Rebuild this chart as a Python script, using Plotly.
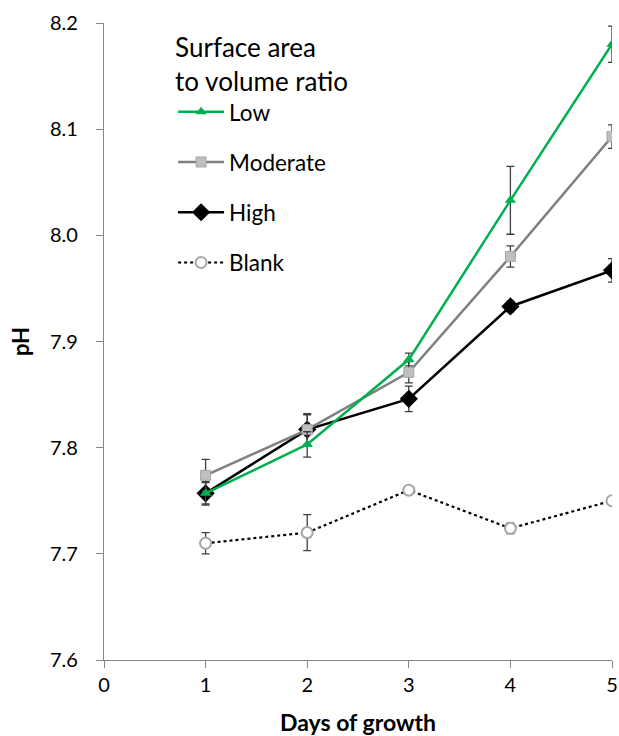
import plotly.graph_objects as go

days = [1, 2, 3, 4, 5]

low = [7.757, 7.803, 7.883, 8.033, 8.180]
low_err = [0.010, 0.012, 0.006, 0.032, 0.017]

moderate = [7.774, 7.817, 7.871, 7.980, 8.093]
moderate_err = [0.015, 0.014, 0.010, 0.010, 0.011]

high = [7.757, 7.817, 7.846, 7.933, 7.967]
high_err = [0.011, 0.015, 0.012, 0.005, 0.011]

blank = [7.710, 7.720, 7.760, 7.724, 7.750]
blank_err = [0.010, 0.017, 0.0, 0.005, 0.0]

x_ticks = [0, 1, 2, 3, 4, 5]
y_ticks = [7.6, 7.7, 7.8, 7.9, 8.0, 8.1, 8.2]
y_tick_text = ["7.6", "7.7", "7.8", "7.9", "8.0", "8.1", "8.2"]

FONT = "Lato, 'Open Sans', sans-serif"
ERR_COLOR = "#3f3f3f"


def err(values):
    return dict(type="data", array=values, visible=True, color=ERR_COLOR,
                thickness=1.3, width=4)


fig = go.Figure()

fig.add_trace(go.Scatter(
    x=days, y=blank, name="Blank", mode="lines+markers",
    line=dict(color="black", width=2.2, dash="dot"),
    marker=dict(symbol="circle", size=11, color="white",
                line=dict(color="#a6a6a6", width=2)),
    error_y=err(blank_err), legendgroup="d", legendrank=4,
))
fig.add_trace(go.Scatter(
    x=days, y=high, name="High", mode="lines+markers",
    line=dict(color="black", width=2.5),
    marker=dict(symbol="diamond", size=14, color="black",
                line=dict(color="black", width=0)),
    error_y=err(high_err), legendgroup="c", legendrank=3,
))
fig.add_trace(go.Scatter(
    x=days, y=moderate, name="Moderate", mode="lines+markers",
    line=dict(color="#808080", width=2.5),
    marker=dict(symbol="square", size=10, color="#bfbfbf",
                line=dict(color="#a6a6a6", width=1)),
    error_y=err(moderate_err), legendgroup="b", legendrank=2,
))
fig.add_trace(go.Scatter(
    x=days, y=low, name="Low", mode="lines+markers",
    line=dict(color="#00b050", width=2.5),
    marker=dict(symbol="triangle-up", size=10, color="#00b050",
                line=dict(color="#00b050", width=0)),
    error_y=err(low_err), legendgroup="a", legendrank=1,
))

fig.update_layout(
    width=619, height=736,
    margin=dict(l=104, r=7, t=23, b=76, autoexpand=False),
    paper_bgcolor="white", plot_bgcolor="white",
    font=dict(family=FONT, size=20, color="black"),
    legend=dict(
        title=dict(text="Surface area<br>to volume ratio", side="top center",
                   font=dict(size=26, family=FONT)),
        x=0.136, y=1.0, xanchor="left", yanchor="top",
        bgcolor="rgba(0,0,0,0)", font=dict(size=22.5, family=FONT),
        tracegroupgap=18, itemwidth=46,
    ),
    xaxis=dict(
        range=[0, 5], tickvals=x_ticks, showgrid=False, zeroline=False,
        showline=True, linecolor="#868686", linewidth=1.3,
        ticks="outside", ticklen=7, tickcolor="#868686",
        tickfont=dict(size=20, family=FONT), automargin=False,
        title=dict(text="<b>Days of growth</b>", font=dict(size=23, family=FONT),
                   standoff=20),
    ),
    yaxis=dict(
        range=[7.6, 8.2], tickvals=y_ticks, ticktext=y_tick_text,
        showgrid=False, zeroline=False,
        showline=True, linecolor="#868686", linewidth=1.3,
        ticks="outside", ticklen=7, tickcolor="#868686",
        ticklabelstandoff=14, automargin=False,
        tickfont=dict(size=20, family=FONT),
        title=dict(text="<b>pH</b>", font=dict(size=22, family=FONT),
                   standoff=14),
    ),
)

fig.write_html("out.html", config={"displayModeBar": False},
               post_script="document.body.style.margin='0';")
